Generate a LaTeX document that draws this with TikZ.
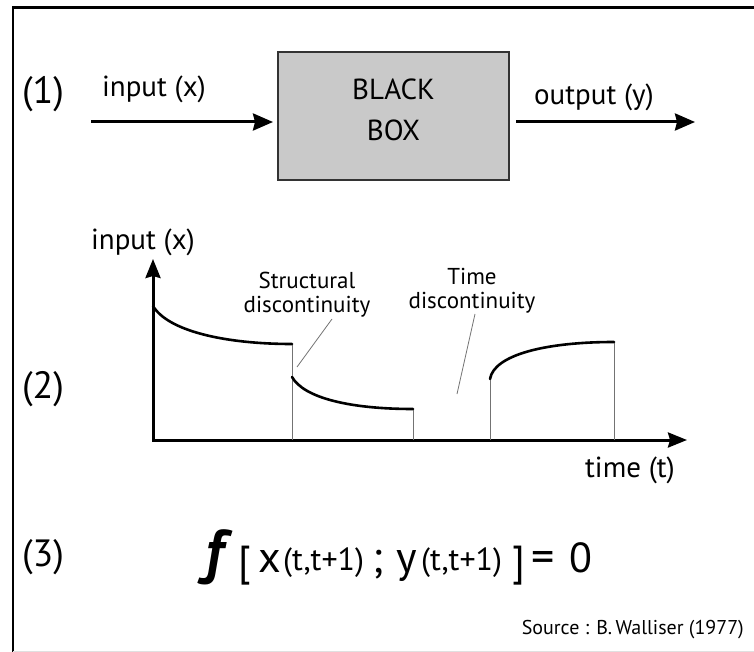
\documentclass[tikz,border=0pt]{standalone}
\usepackage{fontspec}
\setmainfont{PT Sans}
\usetikzlibrary{arrows.meta}
\begin{document}
\begin{tikzpicture}[x=1pt,y=-1pt,
  num/.style={inner sep=0pt,font=\fontsize{38}{40}\selectfont},
  lblA/.style={inner sep=0pt,font=\fontsize{29}{30}\selectfont},
  lblB/.style={inner sep=0pt,align=center,font=\fontsize{23}{24}\selectfont},
  boxtext/.style={inner sep=0pt,align=center,font=\fontsize{29}{41}\selectfont},
  bbox/.style={draw=black!80,line width=2pt,fill=black!21,minimum width=231pt,minimum height=128pt,inner sep=0pt},
  arr/.style={line width=3pt,-{Stealth[length=20pt,width=17pt,inset=2pt]}},
  axisarr/.style={line width=3pt,{Stealth[length=19pt,width=15pt,inset=2pt]}-{Stealth[length=19pt,width=15pt,inset=2pt]}},
  curve/.style={line width=2.6pt,line cap=round},
  thinl/.style={line width=0.8pt,black!55},
  fpart/.style={inner sep=0pt,anchor=base west}
]
\useasboundingbox (0,0) rectangle (754,652);
% frame
\draw[line width=2.6pt] (13,652) -- (13,7.5) -- (754,7.5);
\draw[black!12,line width=1pt] (13,651.5) -- (754,651.5);

% (1) black box
\node[num] (n1) at (43,94) {(1)};
\node[bbox] (bb) at (393.5,116) {};
\node[boxtext] (bbt) at ([yshift=6pt]bb.center) {BLACK\\BOX};
\coordinate (inA) at (91,122);
\coordinate (outB) at (695,122);
\draw[arr,shorten >=4pt] (inA) -- (inA -| bb.west);
\draw[arr] ([xshift=6pt]bb.east |- outB) -- (outB);
\node[lblA] (inlbl) at (154,89) {input (x)};
\node[lblA] (outlbl) at (594,97) {output (y)};

% (2) graph
\node[num] (n2) at (43,389) {(2)};
\coordinate (O) at (153,440);
\coordinate (ytip) at (153,259);
\coordinate (xtip) at (687,440);
\draw[axisarr] (ytip) -- (O) -- (xtip);
\coordinate (c1s) at (153,306);
\coordinate (c1e) at (292,344);
\coordinate (c2s) at (292,377);
\coordinate (c2e) at (413,409);
\coordinate (c3s) at (490,379);
\coordinate (c3e) at (614,342);
\draw[thinl] (c1e) -- (c1e |- O);
\draw[thinl] (c2e) -- (c2e |- O);
\draw[thinl] (c3s) -- (c3s |- O);
\draw[thinl] (c3e) -- (c3e |- O);
\draw[curve] (c1s) .. controls (168,331) and (225,344) .. (c1e);
\draw[curve] (c2s) .. controls (304,398) and (350,409) .. (c2e);
\draw[curve] (c3s) .. controls (494,355) and (545,342) .. (c3e);
\node[lblA] (ylbl) at (143,242) {input (x)};
\node[lblA] (tlbl) at (630,470) {time (t)};
\node[lblB] (struct) at (307,295) {Structural\\discontinuity};
\node[lblB] (timed) at (472,291) {Time\\discontinuity};
\coordinate (s1) at (297,367);
\coordinate (s2) at (332,319);
\coordinate (t1) at (457,394);
\coordinate (t2) at (475,314);
\draw[thinl] (s1) -- (s2);
\draw[thinl] (t1) -- (t2);

% (3) formula
\node[num] (n3) at (43,557) {(3)};
\node[fpart,font=\fontsize{60}{60}\selectfont\bfseries\itshape] (ff) at (205,572) {f};
\node[fpart,font=\fontsize{42}{42}\selectfont] (lb) at (238,575) {[};
\node[fpart,font=\fontsize{44}{44}\selectfont] (xx) at (258,572) {x};
\node[fpart,font=\fontsize{32}{32}\selectfont] (xs) at (283,570) {(t,t+1)};
\node[fpart,font=\fontsize{44}{44}\selectfont] (sc) at (372,572) {;};
\node[fpart,font=\fontsize{44}{44}\selectfont] (yy) at (396,572) {y};
\node[fpart,font=\fontsize{32}{32}\selectfont] (ys) at (421,570) {(t,t+1)};
\node[fpart,font=\fontsize{42}{42}\selectfont] (rb) at (512,575) {]};
\node[fpart,font=\fontsize{46}{46}\selectfont] (eq) at (531,572) {=};
\node[fpart,font=\fontsize{42}{42}\selectfont] (zero) at (569,572) {0};
\node[inner sep=0pt,anchor=base east,font=\fontsize{20}{20}\selectfont] (src) at (744,634) {Source : B.\,Walliser (1977)};
\end{tikzpicture}
\end{document}
